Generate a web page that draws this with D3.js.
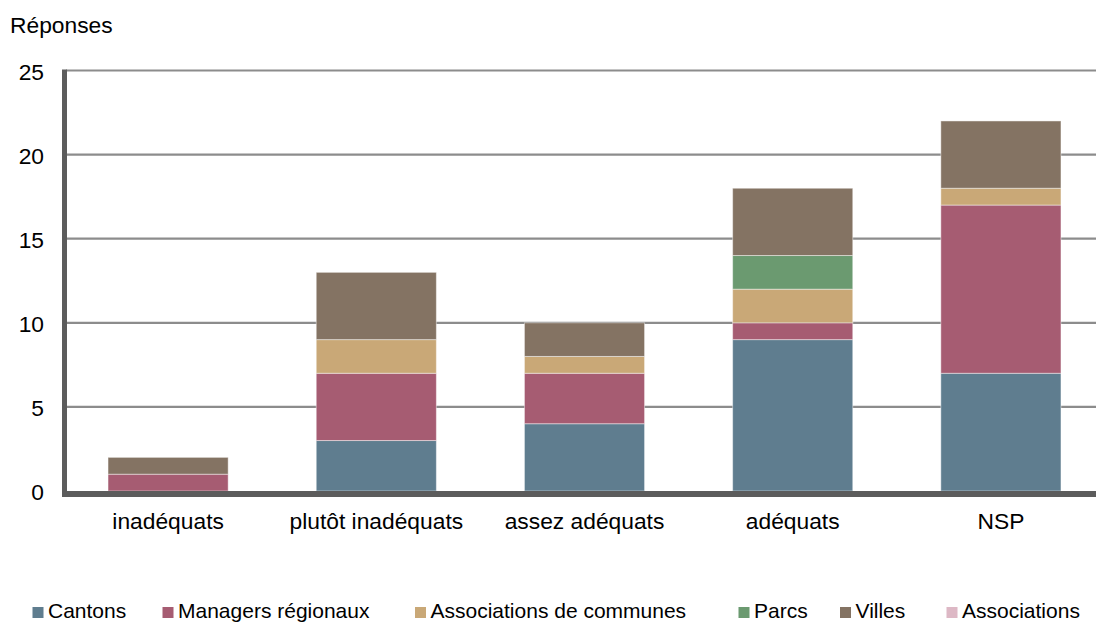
<!DOCTYPE html>
<html>
<head>
<meta charset="utf-8">
<script src="https://cdn.jsdelivr.net/npm/d3@7"></script>
<style>
  html, body { margin: 0; padding: 0; background: #fff; }
  svg { display: block; font-family: "Liberation Sans", Arial, sans-serif; }
</style>
</head>
<body>
<svg id="chart" width="1096" height="624"></svg>
<script>
// Categories on the x axis
const categories = ["inadéquats", "plutôt inadéquats", "assez adéquats", "adéquats", "NSP"];

// Respondent groups (stack order, bottom to top)
const groups = ["Cantons", "Managers régionaux", "Associations de communes", "Parcs", "Villes", "Associations"];

// Number of answers per group, one value per category
const cantons       = [0, 3, 4, 9, 7];
const managers      = [1, 4, 3, 1, 10];
const assocCommunes = [0, 2, 1, 2, 1];
const parcs         = [0, 0, 0, 2, 0];
const villes        = [1, 4, 2, 4, 4];
const associations  = [0, 0, 0, 0, 0];

const yTicks = [0, 5, 10, 15, 20, 25];

const colors = ["#5f7d8f", "#a65c72", "#c9a877", "#6b9a70", "#847363", "#ddb8c5"];

const seriesValues = [cantons, managers, assocCommunes, parcs, villes, associations];

// Build table rows for d3.stack
const rows = categories.map((c, i) => {
  const r = { cat: c };
  groups.forEach((g, k) => { r[g] = seriesValues[k][i]; });
  return r;
});

const stacked = d3.stack().keys(groups)(rows);

const svg = d3.select("#chart");

const x = d3.scaleBand()
  .domain(categories)
  .range([64, 1105])
  .paddingInner(0.423)
  .paddingOuter(0.2115);

const y = d3.scaleLinear()
  .domain([0, 25])
  .range([491, 70.5]);

const axisFont = 22.8;
const legendFont = 21;

// Horizontal gridlines
svg.append("g")
  .selectAll("line")
  .data(yTicks.filter(t => t > 0))
  .join("line")
  .attr("x1", 66)
  .attr("x2", 1096)
  .attr("y1", d => y(d))
  .attr("y2", d => y(d))
  .attr("stroke", "#8c8c8c")
  .attr("stroke-width", 2.2);

// Stacked bars
const layer = svg.append("g")
  .selectAll("g")
  .data(stacked)
  .join("g")
  .attr("fill", (d, i) => colors[i]);

layer.selectAll("rect")
  .data(d => d.filter(s => s[1] - s[0] > 0))
  .join("rect")
  .attr("x", d => x(d.data.cat))
  .attr("width", x.bandwidth())
  .attr("y", d => y(d[1]))
  .attr("height", d => y(d[0]) - y(d[1]))
  .attr("stroke", "rgba(255,255,255,0.45)")
  .attr("stroke-width", 1);

// Y axis line
svg.append("line")
  .attr("x1", 64.5).attr("x2", 64.5)
  .attr("y1", 69.5).attr("y2", 497)
  .attr("stroke", "#5c5c5c")
  .attr("stroke-width", 5);

// X axis line (baseline)
svg.append("line")
  .attr("x1", 62).attr("x2", 1096)
  .attr("y1", y(0) + 3).attr("y2", y(0) + 3)
  .attr("stroke", "#5c5c5c")
  .attr("stroke-width", 6);

// Y tick labels
const yAxis = d3.axisLeft(y).tickValues(yTicks).tickSize(0).tickPadding(0).tickFormat(d3.format("d"));
const yG = svg.append("g").attr("transform", "translate(44,0)").call(yAxis);
yG.select(".domain").remove();
yG.selectAll("text")
  .attr("font-size", axisFont)
  .attr("font-family", "Liberation Sans, Arial, sans-serif")
  .attr("fill", "#000")
  .attr("dy", "0.38em");

// X tick labels
const xAxis = d3.axisBottom(x).tickSize(0).tickPadding(0);
const xG = svg.append("g").attr("transform", "translate(0,513)").call(xAxis);
xG.select(".domain").remove();
xG.selectAll("text")
  .attr("font-size", axisFont)
  .attr("font-family", "Liberation Sans, Arial, sans-serif")
  .attr("fill", "#000");

// Y axis title
svg.append("text")
  .attr("x", 10)
  .attr("y", 33)
  .attr("font-size", axisFont)
  .attr("fill", "#000")
  .text("Réponses");

// Legend
const legendX = [32.5, 162.5, 415, 738.5, 840, 946.5];
const legend = svg.append("g");
groups.forEach((g, i) => {
  legend.append("rect")
    .attr("x", legendX[i])
    .attr("y", 607)
    .attr("width", 11)
    .attr("height", 11)
    .attr("fill", colors[i]);
  legend.append("text")
    .attr("x", legendX[i] + 15.5)
    .attr("y", 618)
    .attr("font-size", legendFont)
    .attr("fill", "#000")
    .text(g);
});
</script>
</body>
</html>
